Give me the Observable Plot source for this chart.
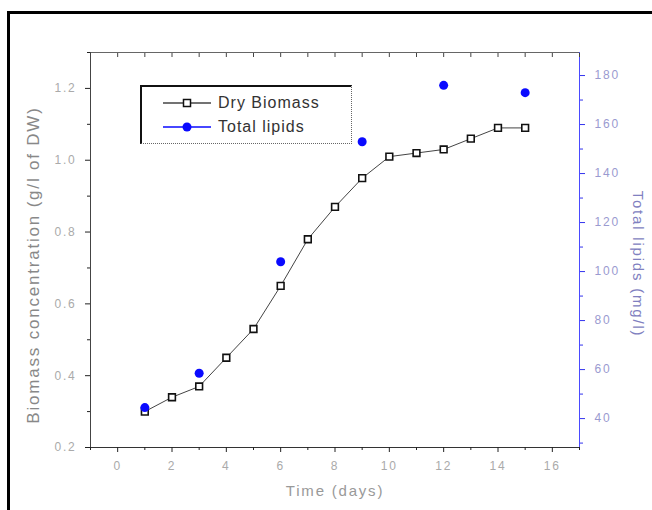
<!DOCTYPE html>
<html>
<head>
<meta charset="utf-8">
<script src="https://cdn.jsdelivr.net/npm/d3@7"></script>
<script src="https://cdn.jsdelivr.net/npm/@observablehq/plot@0.6"></script>
<style>
  html, body { margin: 0; padding: 0; background: #fff; overflow: hidden; }
  #wrap { position: relative; width: 652px; height: 510px; overflow: hidden; font-family: "Liberation Sans", Arial, sans-serif; }
  #frame { position: absolute; left: 7px; top: 11px; width: 700px; height: 600px; border: 3px solid #000; box-sizing: border-box; }
  #chart { position: absolute; left: 0; top: 0; }
  #chart svg text { letter-spacing: 1.8px; }
  #chart g[aria-label="ytitle"] text { letter-spacing: 2.8px; }
  #chart g[aria-label="xtitle"] text { letter-spacing: 1.8px; }
  #chart g[aria-label="rtitle"] text { letter-spacing: 3px; }
  #legend { position: absolute; left: 140px; top: 85px; width: 212px; height: 59px; box-sizing: border-box;
    border: 1px dotted #666; border-top: 2px solid #111; border-left: 2px solid #111; background: #fff; }
  .row { position: absolute; left: 21px; height: 20px; display: flex; align-items: center; }
  .row span { margin-left: 7px; font-size: 16px; color: #333; letter-spacing: 1px; }
</style>
</head>
<body>
<div id="wrap">
  <div id="frame"></div>
  <div id="chart"></div>
  <div id="legend"></div>
</div>
<script>
// ---- data ----
const days = [1, 2, 3, 4, 5, 6, 7, 8, 9, 10, 11, 12, 13, 14, 15];
const dryBiomass = [0.30, 0.34, 0.37, 0.45, 0.53, 0.65, 0.78, 0.87, 0.95, 1.01, 1.02, 1.03, 1.06, 1.09, 1.09];
const lipidDays = [1, 3, 6, 9, 12, 15];
const totalLipids = [44.5, 58.5, 104, 153, 176, 173];
const xTicks = [0, 2, 4, 6, 8, 10, 12, 14, 16];
const xMinorTicks = [-1, 1, 3, 5, 7, 9, 11, 13, 15, 17];
const biomassTicks = [0.2, 0.4, 0.6, 0.8, 1.0, 1.2];
const biomassMinorTicks = [0.3, 0.5, 0.7, 0.9, 1.1, 1.3];
const lipidTicks = [40, 60, 80, 100, 120, 140, 160, 180];
const lipidMinorTicks = [30, 50, 70, 90, 110, 130, 150, 170];
const seriesNames = ["Dry Biomass", "Total lipids"];

// right axis mapped onto left scale
const lipidToLeft = d3.scaleLinear().domain([28.2, 189.4]).range([0.2, 1.3]);

const biomassData = days.map((d, i) => ({day: d, value: dryBiomass[i]}));
const lipidData = lipidDays.map((d, i) => ({day: d, value: lipidToLeft(totalLipids[i])}));

const fmt1 = d3.format(".1f");

const chart = Plot.plot({
  width: 652,
  height: 510,
  marginLeft: 90,
  marginRight: 73,
  marginTop: 52,
  marginBottom: 63,
  style: {fontFamily: "Liberation Sans, Arial, sans-serif", background: "transparent"},
  x: {domain: [-1, 17]},
  y: {domain: [0.2, 1.3]},
  marks: [
    Plot.ruleY([1.3], {stroke: "#666"}),
    Plot.ruleY([0.2], {stroke: "#333"}),
    Plot.ruleX([-1], {stroke: "#444"}),
    Plot.ruleX([17], {stroke: "#4a4aff"}),
    Plot.axisX({ticks: xTicks, tickSize: 5, tickPadding: 9, fontSize: 12, fill: "#aaa", stroke: "#222", label: null}),
    Plot.axisX({ticks: xMinorTicks, tickSize: 3, tickFormat: () => "", stroke: "#222", label: null}),
    Plot.axisX({ticks: xTicks.concat(xMinorTicks), anchor: "top", tickSize: 4, dy: 4, tickFormat: () => "", stroke: "#444", label: null}),
    Plot.axisY({ticks: biomassTicks, tickSize: 5, tickPadding: 9, fontSize: 12, fill: "#aaa", stroke: "#222", tickFormat: fmt1, label: null}),
    Plot.axisY({ticks: biomassMinorTicks, tickSize: 3, tickFormat: () => "", stroke: "#222", label: null}),
    Plot.axisY({ticks: lipidTicks.map(lipidToLeft), anchor: "right", tickSize: 5, tickPadding: 10, fontSize: 12,
      fill: "#9a9ad0", stroke: "#3333ee", tickFormat: d => String(Math.round(lipidToLeft.invert(d))), label: null}),
    Plot.axisY({ticks: lipidMinorTicks.map(lipidToLeft), anchor: "right", tickSize: 3, tickFormat: () => "", stroke: "#3333ee", label: null}),
    Plot.line(biomassData, {x: "day", y: "value", stroke: "#444", strokeWidth: 1}),
    Plot.dot(biomassData, {x: "day", y: "value", symbol: "square", r: 3.8, fill: "#fff", stroke: "#111", strokeWidth: 1.6}),
    Plot.dot(lipidData, {x: "day", y: "value", r: 4.5, fill: "#0a0aff", stroke: "none"}),
    Plot.text(["Biomass concentration (g/l of DW)"], {frameAnchor: "left", textAnchor: "middle", dx: -57, dy: 15, rotate: -90, fontSize: 17, fill: "#888", ariaLabel: "ytitle"}),
    Plot.text(["Total lipids (mg/l)"], {frameAnchor: "right", textAnchor: "middle", dx: 58, dy: 14, rotate: 90, fontSize: 15, fill: "#8080c0", ariaLabel: "rtitle"}),
    Plot.text(["Time (days)"], {frameAnchor: "bottom", dy: 48, fontSize: 15, fill: "#999", ariaLabel: "xtitle"})
  ]
});
document.getElementById("chart").appendChild(chart);

// legend
const legend = document.getElementById("legend");
const legendSymbols = [
  `<svg width="48" height="14"><line x1="0" y1="7" x2="48" y2="7" stroke="#444" stroke-width="1.5"/><rect x="20.5" y="3.5" width="7" height="7" fill="#fff" stroke="#111" stroke-width="1.5"/></svg>`,
  `<svg width="48" height="14"><line x1="0" y1="7" x2="48" y2="7" stroke="#0a0aff" stroke-width="1.5"/><circle cx="24" cy="7" r="4.5" fill="#0a0aff"/></svg>`
];
seriesNames.forEach((name, i) => {
  const row = document.createElement("div");
  row.className = "row";
  row.style.top = (6 + i * 24) + "px";
  row.innerHTML = legendSymbols[i] + `<span>${name}</span>`;
  legend.appendChild(row);
});
</script>
</body>
</html>
